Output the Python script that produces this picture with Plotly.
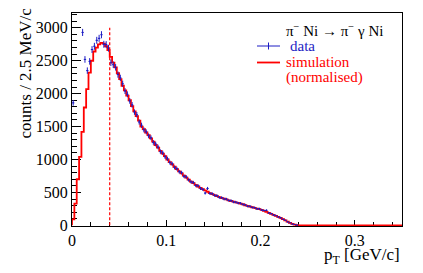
import math
import plotly.graph_objects as go

# ---------------- data ----------------
bin_width = 0.0025  # GeV/c (2.5 MeV/c)
n_bins = 140        # 0 .. 0.35 GeV/c

sim_counts = [
    90, 330, 700, 1040, 1420, 1790, 2070, 2320, 2500, 2640,
    2700, 2750, 2770, 2760, 2720, 2660, 2560, 2470, 2400, 2310,
    2220, 2120, 2050, 1970, 1900, 1810, 1730, 1660, 1590, 1500,
    1460, 1410, 1370, 1320, 1270, 1220, 1180, 1130, 1090, 1050,
    1000, 960, 925, 890, 855, 820, 790, 755, 725, 695,
    665, 640, 615, 590, 570, 550, 530, 510, 490, 475,
    460, 445, 430, 415, 405, 395, 380, 370, 360, 350,
    340, 330, 320, 305, 295, 285, 275, 265, 255, 245,
    235, 220, 205, 190, 175, 160, 145, 130, 112, 95,
    75, 55, 38, 22, 10, 3,
]
sim_counts = sim_counts + [0] * (n_bins - len(sim_counts))

data_counts = [
    1860, None, None, None, 2930, 2520, 2350, 2490, 2670, 2720,
    2810, 2840, 2895, 2750, 2745, 2690, 2470, 2440, 2400, 2290,
    2240, 2150, 2040, 1990, 1890, 1830, 1720, 1680, 1570, 1520,
    1450, 1420, 1360, 1330, 1260, 1235, 1190, 1120, 1100, 1040,
    1010, 955, 935, 880, 860, 815, 800, 745, 735, 690,
    660, 650, 605, 600, 560, 545, 490, 560, 485, 480,
    455, 450, 425, 420, 400, 398, 378, 375, 355, 352,
    338, 335, 318, 310, 290, 290, 272, 268, 250, 252,
    232, 225, 228, 188, 178, 158, 148, 128, 115, 92,
    78, 52, 40, 20, 12, 4,
]

cut_value = 0.04
cut_height = 3000

x_ticks = [0, 0.1, 0.2, 0.3]
x_tick_labels = ["0", "0.1", "0.2", "0.3"]
y_ticks = [0, 500, 1000, 1500, 2000, 2500, 3000]
y_tick_labels = ["0", "500", "1000", "1500", "2000", "2500", "3000"]

# ---------------- figure ----------------
# page body has an 8px margin; figure is offset by it
OFF = 8
W, H = 415, 265
ML, MR, MT, MB = 64, 21, 5, 47
PW, PH = W - ML - MR, H - MT - MB


def px(xp):
    # xp: pixel in the window
    return (xp - OFF - ML) / PW


def py(yp):
    return (H - MB - (yp - OFF)) / PH


BLUE = "#1c1cc4"
RED = "#ff0000"
FONT = "Liberation Serif, Times New Roman, serif"
TICKFONT = dict(family=FONT, size=16, color="black")

fig = go.Figure()

# simulation step histogram
edges = [i * bin_width for i in range(n_bins + 1)]
step_x = [0.0] + edges
step_y = [0] + sim_counts + [sim_counts[-1]]
fig.add_trace(go.Scatter(
    x=step_x, y=step_y, mode="lines", line_shape="hv",
    line=dict(color=RED, width=1.8), hoverinfo="skip", showlegend=False,
))

# data points with error bars
dx, dy, de = [], [], []
for i, v in enumerate(data_counts):
    if v is None:
        continue
    dx.append((i + 0.5) * bin_width)
    dy.append(v)
    de.append(math.sqrt(v))
fig.add_trace(go.Scatter(
    x=dx, y=dy, mode="markers",
    marker=dict(size=1, color=BLUE),
    error_x=dict(type="constant", value=bin_width / 2, color=BLUE, thickness=1, width=0),
    error_y=dict(type="data", array=de, color=BLUE, thickness=1, width=0),
    showlegend=False, hoverinfo="skip",
))

# dashed cut line
fig.add_trace(go.Scatter(
    x=[cut_value, cut_value], y=[0, cut_height], mode="lines",
    line=dict(color=RED, width=1.2, dash="3px,2px"),
    showlegend=False, hoverinfo="skip",
))

fig.update_xaxes(
    range=[0, 0.35], tickvals=x_ticks, ticktext=x_tick_labels,
    ticklen=6, tickwidth=1, tickfont=TICKFONT,
    showgrid=False, zeroline=False, showline=True, mirror=True,
    linecolor="black", linewidth=1, ticks="inside", tickcolor="black",
    layer="below traces", automargin=False,
    minor=dict(ticks="inside", ticklen=4, dtick=0.02, tick0=0, tickcolor="black"),
)
fig.update_yaxes(
    range=[-10, 3225], tickvals=y_ticks, ticktext=y_tick_labels,
    ticklen=9, tickwidth=1, tickfont=TICKFONT,
    showgrid=False, zeroline=False, showline=True, mirror=True,
    linecolor="black", linewidth=1, ticks="inside", tickcolor="black",
    layer="below traces", automargin=False,
    minor=dict(ticks="inside", ticklen=5, dtick=100, tick0=0, tickcolor="black"),
)

annotations = [
    dict(text="counts / 2.5 MeV/c", textangle=-90, xref="paper", yref="paper",
         x=px(25), y=py(6), xanchor="center", yanchor="top", showarrow=False,
         font=dict(family=FONT, size=17, color="black")),
    dict(text="p<sub>T</sub> [GeV/c]", xref="paper", yref="paper",
         x=px(402), y=py(256), xanchor="right", yanchor="middle", showarrow=False,
         font=dict(family=FONT, size=17, color="black")),
    dict(text="π<sup>−</sup> Ni → π<sup>−</sup> γ Ni", xref="paper", yref="paper",
         x=px(334), y=py(30), xanchor="center", yanchor="middle", showarrow=False,
         font=dict(family=FONT, size=15, color="black")),
    dict(text="data", xref="paper", yref="paper",
         x=px(288), y=py(46), xanchor="left", yanchor="middle", showarrow=False,
         font=dict(family=FONT, size=15, color=BLUE)),
    dict(text="simulation", xref="paper", yref="paper",
         x=px(284), y=py(62), xanchor="left", yanchor="middle", showarrow=False,
         font=dict(family=FONT, size=15, color=RED)),
    dict(text="(normalised)", xref="paper", yref="paper",
         x=px(284), y=py(77), xanchor="left", yanchor="middle", showarrow=False,
         font=dict(family=FONT, size=15, color=RED)),
]

shapes = [
    dict(type="line", xref="paper", yref="paper", x0=px(257), x1=px(280),
         y0=py(46), y1=py(46), line=dict(color=BLUE, width=1)),
    dict(type="line", xref="paper", yref="paper", x0=px(268.5), x1=px(268.5),
         y0=py(42.5), y1=py(49.5), line=dict(color=BLUE, width=1)),
    dict(type="line", xref="paper", yref="paper", x0=px(257), x1=px(280),
         y0=py(62.5), y1=py(62.5), line=dict(color=RED, width=1.8)),
]

fig.update_layout(
    width=W, height=H, autosize=False,
    margin=dict(l=ML, r=MR, t=MT, b=MB),
    paper_bgcolor="white", plot_bgcolor="white",
    annotations=annotations, shapes=shapes,
    font=dict(family=FONT),
)

fig.write_html("out.html")
